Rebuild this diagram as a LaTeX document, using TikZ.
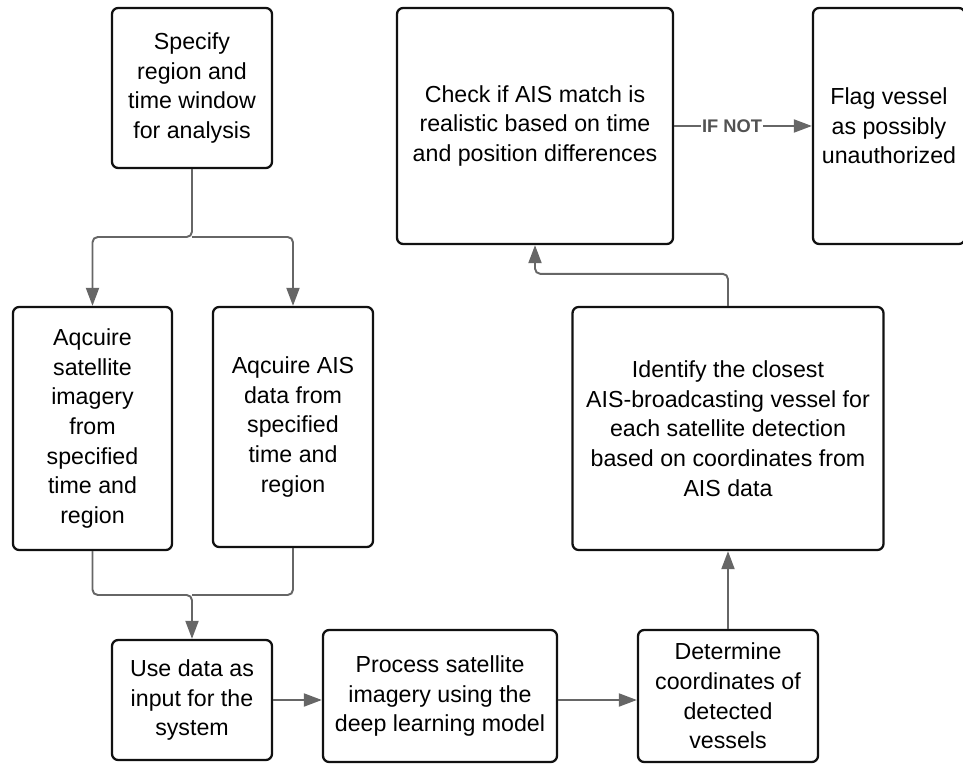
\documentclass[tikz,border=0pt]{standalone}
\usepackage{fontspec}
\setmainfont{Liberation Sans}
\usetikzlibrary{arrows.meta, positioning}
\definecolor{LinkGray}{HTML}{666666}
\definecolor{BoxBlack}{HTML}{111111}

\begin{document}
\begin{tikzpicture}[
    box/.style={draw=BoxBlack, line width=1.3pt, rounded corners=3.5pt, fill=white,
        align=center, font=\fontsize{13.2}{16.9}\selectfont, inner sep=2pt},
    link/.style={draw=LinkGray, line width=1.1pt, rounded corners=3pt,
        -{Triangle[length=0.36cm, width=0.26cm]}},
    cond/.style={font=\bfseries\fontsize{10.4}{12}\selectfont, text=LinkGray!80!black,
        fill=white, inner sep=0.5pt}
]
\useasboundingbox (0,0) rectangle (19.26,-15.34);
\begin{scope}
\clip (0,0) rectangle (19.26,-15.34);
% boxes
\node[box, minimum width=3.2cm, minimum height=3.2cm] (spec) at (3.84,-1.76)
    {Specify\\region and\\time window\\for analysis};
\node[box, minimum width=3.18cm, minimum height=4.86cm] (sat) at (1.85,-8.57)
    {Aqcuire\\satellite\\imagery\\from\\specified\\time and\\region};
\node[box, minimum width=3.2cm, minimum height=4.8cm] (ais) at (5.86,-8.54)
    {Aqcuire AIS\\data from\\specified\\time and\\region};
\node[box, minimum width=3.2cm, minimum height=2.4cm] (use) at (3.84,-14.0)
    {Use data as\\input for the\\system};
\node[box, minimum width=4.68cm, minimum height=2.64cm] (proc) at (8.8,-13.92)
    {Process satellite\\imagery using the\\deep learning model};
\node[box, minimum width=3.6cm, minimum height=2.64cm] (det) at (14.56,-13.92)
    {Determine\\coordinates of\\detected\\vessels};
\node[box, minimum width=6.22cm, minimum height=4.86cm] (ident) at (14.56,-8.57)
    {Identify the closest\\AIS-broadcasting vessel for\\each satellite detection\\based on coordinates from\\AIS data};
\node[box, minimum width=5.52cm, minimum height=4.72cm] (check) at (10.7,-2.52)
    {Check if AIS match is\\realistic based on time\\and position differences};
\node[box, minimum width=3.04cm, minimum height=4.72cm] (flag) at (17.78,-2.52)
    {Flag vessel\\as possibly\\unauthorized};
% connectors
\coordinate (split) at (3.84,-4.74);
\coordinate (merge) at (3.84,-11.9);
\draw[link] (spec.south) -- (split) -| (sat.north);
\draw[link] (split) -| (ais.north);
\draw[link] (sat.south) |- (merge) -- (use.north);
\draw[link, -] (ais.south) |- (merge);
\draw[link] (use.east) -- (use.east -| proc.west);
\draw[link] (use.east -| proc.east) -- (use.east -| det.west);
\draw[link] (det.north) -- (ident.south);
\draw[link] (ident.north) -- ++(0,0.64) -| (check.south);
\draw[link] (check.east) -- node[cond, pos=0.42] {IF NOT} (flag.west);
\end{scope}
\end{tikzpicture}
\end{document}
